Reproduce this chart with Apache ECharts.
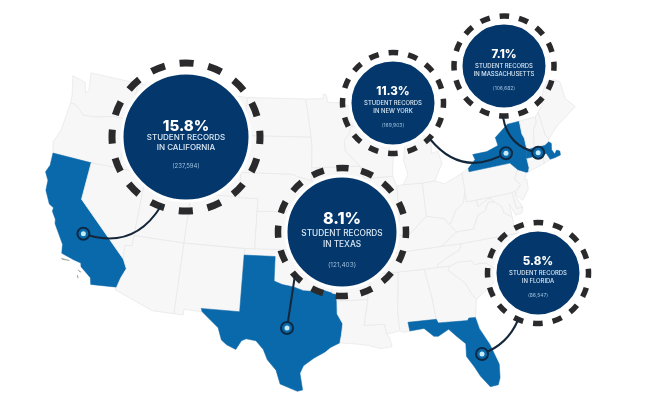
<!DOCTYPE html>
<html>
<head>
<meta charset="utf-8">
<title>Student records by state</title>
<script src="https://cdn.jsdelivr.net/npm/echarts@6/dist/echarts.min.js"></script>
<style>
  html, body { margin: 0; padding: 0; background: #fff; }
  #main { width: 650px; height: 405px; }
</style>
</head>
<body>
<div id="main"></div>
<script>
// chart values
var stateNames = ['California', 'Texas', 'New York', 'Massachusetts', 'Florida'];
var sharePct = ['15.8%', '8.1%', '11.3%', '7.1%', '5.8%'];
var recordCounts = ['237,594', '121,403', '169,903', '106,682', '86,547'];
var labelLines = ['IN CALIFORNIA', 'IN TEXAS', 'IN NEW YORK', 'IN MASSACHUSETTS', 'IN FLORIDA'];
// where each pin sits, lon / lat
var pinLonLat = [[-118.95, 36.35], [-98.64, 30.88], [-75.53, 42.82], [-72.2, 42.24], [-81.37, 27.81]];

// callout layout in page pixels
var bubbleCenter = [[186, 137], [342, 232], [393, 103], [504, 66], [538, 273]];
var bubbleRadius = [64, 56, 43, 43, 43];
var ringRadius = [74, 64, 50.5, 50, 50.5];
var ringWidth = [7, 6.5, 5.5, 5.5, 5.5];
var lineEnd = [[161, 206], [295, 275], [430, 139], [503, 117], [518, 320]];
var lineCurve = [-0.4, 0, 0.42, 0.35, -0.22];
// font size, then line heights: percent, text, gap, count
var textStyle = [
  { pct: 15, txt: 8, rec: 6, lh: [14, 10, 8, 10], dy: 8 },
  { pct: 16, txt: 8.3, rec: 6.5, lh: [19, 11, 9, 11], dy: 8 },
  { pct: 11.5, txt: 5.9, rec: 5, lh: [14, 8, 6, 8], dy: 4 },
  { pct: 11.5, txt: 5.9, rec: 5, lh: [14, 8, 6, 8], dy: 4 },
  { pct: 11.5, txt: 5.9, rec: 5, lh: [14, 8, 6, 8], dy: 4 }
];

// simplified state outlines, lon / lat. one list per polygon
var usStates = {
  'Washington': [[[-124.7,48.4],[-123.1,48.15],[-122.7,47.3],[-122.4,47.6],[-122.5,48],[-122.75,49],[-117.03,49],[-117.04,46.42],[-116.92,45.99],[-118.98,46],[-119.3,45.93],[-120.5,45.7],[-121.2,45.6],[-122.3,45.55],[-122.8,45.9],[-123.4,46.2],[-124,46.25],[-124.1,46.9]]],
  'Oregon': [[[-124.2,42],[-124.55,42.85],[-124.1,44],[-124,46.25],[-123.4,46.2],[-122.8,45.9],[-122.3,45.55],[-121.2,45.6],[-120.5,45.7],[-119.3,45.93],[-118.98,46],[-116.92,45.99],[-116.46,45.6],[-117.03,44.25],[-117.03,42],[-120,42]]],
  'California': [[[-124.2,42],[-120,42],[-120,39],[-114.6,35],[-114.15,34.3],[-114.5,33.5],[-114.7,32.72],[-117.12,32.53],[-117.3,33.05],[-118.4,33.75],[-118.5,34.03],[-119.2,34.15],[-120.5,34.45],[-120.65,35.15],[-121.9,36.6],[-122,36.96],[-122.5,37.5],[-122.5,37.8],[-123,38],[-123.75,39],[-123.85,39.8],[-124.35,40.4],[-124.1,41]]],
  'Channel Islands': [[[-120.4,34.05],[-119.6,34.03],[-119.5,33.98],[-120.3,33.98]], [[-118.6,33.45],[-118.3,33.35],[-118.35,33.3]], [[-118.55,33.05],[-118.4,32.85],[-118.45,32.82]]],
  'Idaho': [[[-117.03,49],[-116.05,49],[-116.05,48],[-115.7,47.45],[-114.7,46.7],[-114.4,45.55],[-113.9,45.65],[-113.45,44.95],[-113,44.45],[-111.5,44.55],[-111.05,44.47],[-111.05,42],[-117.03,42],[-117.03,44.25],[-116.46,45.6],[-116.92,45.99],[-117.04,46.42]]],
  'Montana': [[[-116.05,49],[-104.05,49],[-104.05,45],[-111.05,45],[-111.05,44.47],[-111.5,44.55],[-113,44.45],[-113.45,44.95],[-113.9,45.65],[-114.4,45.55],[-114.7,46.7],[-115.7,47.45],[-116.05,48]]],
  'Wyoming': [[[-111.05,45],[-104.05,45],[-104.05,41],[-111.05,41]]],
  'Nevada': [[[-120,42],[-114.04,42],[-114.04,36.2],[-114.75,36.1],[-114.6,35],[-120,39]]],
  'Utah': [[[-114.04,42],[-111.05,42],[-111.05,41],[-109.05,41],[-109.05,37],[-114.04,37]]],
  'Colorado': [[[-109.05,41],[-102.05,41],[-102.05,37],[-109.05,37]]],
  'Arizona': [[[-114.04,37],[-109.05,37],[-109.05,31.33],[-111.07,31.33],[-114.8,32.5],[-114.7,32.72],[-114.5,33.5],[-114.15,34.3],[-114.6,35],[-114.75,36.1],[-114.04,36.2]]],
  'New Mexico': [[[-109.05,37],[-103,37],[-103.04,36.5],[-103.06,32],[-106.62,32],[-106.5,31.75],[-108.2,31.78],[-108.2,31.33],[-109.05,31.33]]],
  'North Dakota': [[[-104.05,49],[-97.2,49],[-96.85,47.5],[-96.55,45.94],[-104.05,45.94]]],
  'South Dakota': [[[-104.05,45.94],[-96.55,45.94],[-96.45,45.3],[-96.45,43.5],[-96.45,42.5],[-97.9,42.8],[-98.5,43],[-104.05,43]]],
  'Nebraska': [[[-104.05,43],[-98.5,43],[-97.9,42.8],[-96.45,42.5],[-96.1,41.7],[-95.85,40.7],[-95.3,40],[-102.05,40],[-102.05,41],[-104.05,41]]],
  'Kansas': [[[-102.05,40],[-95.3,40],[-94.6,39.1],[-94.62,37],[-102.05,37]]],
  'Oklahoma': [[[-103,37],[-94.62,37],[-94.43,35.4],[-94.48,33.64],[-95.3,33.87],[-96.5,33.8],[-97.2,33.85],[-98.1,34.13],[-99.2,34.3],[-100,34.56],[-100,36.5],[-103.04,36.5]]],
  'Texas': [[[-103.04,36.5],[-100,36.5],[-100,34.56],[-99.2,34.3],[-98.1,34.13],[-97.2,33.85],[-96.5,33.8],[-95.3,33.87],[-94.48,33.64],[-94.04,33.55],[-94.04,33],[-94.04,31.99],[-93.55,31.2],[-93.7,30.3],[-93.85,29.7],[-94.7,29.35],[-95.2,29],[-96.2,28.5],[-97.1,27.9],[-97.4,27.3],[-97.15,25.96],[-97.6,25.85],[-99.1,26.4],[-99.5,27.5],[-100.3,28.3],[-100.7,29.1],[-101.4,29.77],[-102.3,29.88],[-102.7,29.7],[-103.15,28.98],[-104,29.3],[-104.5,29.65],[-104.9,30.6],[-106.5,31.75],[-106.62,32],[-103.06,32]]],
  'Minnesota': [[[-97.2,49],[-95.15,49],[-95.15,49.38],[-94.8,49.3],[-94.6,48.7],[-93,48.6],[-91.4,48.05],[-89.6,48],[-92,46.7],[-92.3,46.1],[-92.85,45.6],[-92.75,44.75],[-91.22,43.5],[-96.45,43.5],[-96.45,45.3],[-96.55,45.94],[-96.85,47.5]]],
  'Iowa': [[[-96.45,43.5],[-91.22,43.5],[-91.05,42.7],[-90.15,41.8],[-91.1,41.2],[-91.4,40.6],[-91.7,40.6],[-95.77,40.58],[-95.85,40.7],[-96.1,41.7],[-96.45,42.5]]],
  'Missouri': [[[-95.77,40.58],[-91.7,40.6],[-91.4,40.4],[-91.5,40],[-90.7,39],[-90.2,38.7],[-90.2,38.3],[-89.5,37.3],[-89.15,37],[-89.7,36],[-90.35,36],[-90.1,36.5],[-94.62,36.5],[-94.62,37],[-94.6,39.1],[-95.3,40]]],
  'Arkansas': [[[-94.62,36.5],[-90.1,36.5],[-90.35,36],[-89.7,36],[-90.1,35.1],[-90.6,34.7],[-91.1,33.9],[-91.15,33],[-94.04,33],[-94.04,33.55],[-94.48,33.64],[-94.43,35.4]]],
  'Louisiana': [[[-94.04,33],[-91.15,33],[-91.6,31],[-89.75,31],[-89.6,30.2],[-89.4,30],[-89.2,29.2],[-90.2,29.1],[-91.3,29.4],[-92.3,29.55],[-93.85,29.7],[-93.7,30.3],[-93.55,31.2],[-94.04,31.99]]],
  'Mississippi': [[[-91.15,33],[-91.1,33.9],[-90.6,34.7],[-90.1,35],[-88.2,35],[-88.1,34.9],[-88.45,31.9],[-88.4,30.4],[-89.6,30.2],[-89.75,31],[-91.6,31]]],
  'Alabama': [[[-88.2,35],[-85.6,35],[-85.18,32.87],[-85,31],[-87.6,31],[-87.5,30.3],[-88.1,30.25],[-88.4,30.4],[-88.45,31.9],[-88.1,34.9]]],
  'Georgia': [[[-85.6,35],[-83.1,35],[-83.35,34.7],[-81.9,33.5],[-81.4,32.5],[-81.1,32.1],[-81.45,30.72],[-82.05,30.75],[-82.2,30.57],[-84.86,30.7],[-85,31],[-85.18,32.87]]],
  'Florida': [[[-87.6,31],[-85,31],[-84.86,30.7],[-82.2,30.57],[-82.05,30.75],[-81.45,30.72],[-81.25,29.8],[-80.55,28.45],[-80.03,26.8],[-80.15,25.75],[-80.4,25.2],[-81.1,25.15],[-81.8,26.1],[-82.2,26.9],[-82.75,27.8],[-82.65,28.8],[-83.4,29.5],[-84,30.1],[-85,29.65],[-85.4,29.7],[-86.2,30.4],[-87.5,30.3]]],
  'South Carolina': [[[-83.1,35],[-82.3,35.2],[-81,35.15],[-80.8,34.82],[-79.67,34.8],[-78.55,33.86],[-79.2,33.2],[-80.4,32.5],[-81.1,32.1],[-81.4,32.5],[-81.9,33.5],[-83.35,34.7]]],
  'North Carolina': [[[-84.32,35],[-83.1,35],[-82.3,35.2],[-81,35.15],[-80.8,34.82],[-79.67,34.8],[-78.55,33.86],[-77.9,33.9],[-77,34.6],[-76.5,34.7],[-75.55,35.25],[-75.9,36.55],[-81.68,36.59],[-82,36.1],[-83.2,35.7],[-84.3,35.2]]],
  'Tennessee': [[[-90.1,35],[-88.2,35],[-85.6,35],[-84.32,35],[-84.3,35.2],[-83.2,35.7],[-82,36.1],[-81.68,36.59],[-83.68,36.6],[-88.05,36.5],[-89.4,36.5],[-89.7,36]]],
  'Kentucky': [[[-89.4,36.5],[-88.05,36.5],[-83.68,36.6],[-81.97,37.54],[-82.6,38.17],[-83,38.7],[-84.8,39.1],[-85.4,38.7],[-86.5,37.95],[-88,37.8],[-88.5,37.1],[-89.15,37]]],
  'Virginia': [[[-83.68,36.6],[-81.68,36.59],[-75.9,36.55],[-76.3,37],[-76.3,37.9],[-77,38.3],[-77.1,38.85],[-77.72,39.32],[-78.35,39.4],[-78.85,38.75],[-79.65,38.55],[-80.3,37.55],[-81.97,37.54]]],
  'West Virginia': [[[-81.97,37.54],[-80.3,37.55],[-79.65,38.55],[-78.85,38.75],[-78.35,39.4],[-77.72,39.32],[-78.2,39.68],[-79.48,39.2],[-79.48,39.72],[-80.52,39.72],[-80.52,40.64],[-80.85,39.7],[-81.75,39.2],[-82.2,38.6],[-82.6,38.17]]],
  'Maryland': [[[-79.48,39.72],[-75.79,39.72],[-75.69,38.46],[-75.05,38.45],[-75.25,38.03],[-75.9,37.95],[-76.3,38.9],[-76.3,37.9],[-77,38.3],[-77.1,38.85],[-77.72,39.32],[-78.2,39.68],[-79.48,39.2]]],
  'Delaware': [[[-75.79,39.72],[-75.4,39.8],[-75.55,39.45],[-75.05,38.45],[-75.69,38.46]]],
  'Pennsylvania': [[[-80.52,42],[-79.76,42.27],[-79.76,42],[-75.35,42],[-74.7,41.36],[-75.1,40.9],[-75.2,40.65],[-74.75,40.2],[-75.4,39.8],[-75.79,39.72],[-80.52,39.72]]],
  'New Jersey': [[[-74.7,41.36],[-73.9,41],[-74.25,40.5],[-74,40.45],[-74.1,39.7],[-74.9,38.95],[-75.5,39.5],[-74.75,40.2],[-75.2,40.65],[-75.1,40.9]]],
  'New York': [[[-79.76,42],[-75.35,42],[-74.7,41.36],[-73.9,41],[-73.65,41],[-73.5,41.3],[-73.5,42.05],[-73.27,42.75],[-73.25,43.6],[-73.4,44],[-73.34,45],[-74.7,45],[-76.3,44.2],[-76.2,43.55],[-77.5,43.27],[-79.05,43.27],[-78.9,42.85],[-79.76,42.27]]],
  'Connecticut': [[[-73.5,42.05],[-71.8,42.02],[-71.85,41.32],[-73.65,41],[-73.5,41.3]]],
  'Rhode Island': [[[-71.8,42.02],[-71.38,42.02],[-71.15,41.5],[-71.85,41.32]]],
  'Massachusetts': [[[-73.5,42.05],[-71.8,42.02],[-71.38,42.02],[-71.15,41.5],[-70.65,41.52],[-70,41.6],[-69.95,41.9],[-70.25,42.05],[-70.55,41.8],[-70.75,42.2],[-70.6,42.65],[-70.85,42.87],[-71.3,42.7],[-72.46,42.73],[-73.27,42.75]]],
  'Vermont': [[[-73.34,45],[-71.5,45],[-71.6,44.5],[-72.05,44.1],[-72.46,42.73],[-73.27,42.75],[-73.25,43.6],[-73.4,44]]],
  'New Hampshire': [[[-71.5,45],[-71.08,45.3],[-70.98,43.4],[-70.7,43.07],[-70.85,42.87],[-71.3,42.7],[-72.46,42.73],[-72.05,44.1],[-71.6,44.5]]],
  'Maine': [[[-71.08,45.3],[-70.4,45.8],[-70,46.7],[-69.2,47.45],[-68.3,47.35],[-67.8,47.05],[-67.8,45.7],[-67,44.85],[-68.5,44.25],[-69.5,43.85],[-70.7,43.07],[-70.98,43.4]]],
  'Ohio': [[[-84.8,41.7],[-83.45,41.73],[-82.5,41.4],[-81.2,41.77],[-80.52,42],[-80.52,40.64],[-80.85,39.7],[-81.75,39.2],[-82.2,38.6],[-82.6,38.17],[-83,38.7],[-84.8,39.1]]],
  'Indiana': [[[-87.5,41.72],[-86.8,41.76],[-84.8,41.7],[-84.8,39.1],[-85.4,38.7],[-86.5,37.95],[-88,37.8],[-87.5,39.3]]],
  'Illinois': [[[-87.8,42.5],[-90.65,42.5],[-91.05,42.7],[-90.15,41.8],[-91.1,41.2],[-91.4,40.6],[-91.4,40.4],[-91.5,40],[-90.7,39],[-90.2,38.7],[-90.2,38.3],[-89.5,37.3],[-89.15,37],[-88.5,37.1],[-88,37.8],[-87.5,39.3],[-87.5,41.72]]],
  'Wisconsin': [[[-92,46.7],[-90.4,46.55],[-88.1,45.9],[-87.6,45.1],[-88,44.55],[-87.5,44.3],[-87.8,43],[-87.8,42.5],[-90.65,42.5],[-91.05,42.7],[-91.22,43.5],[-92.75,44.75],[-92.85,45.6],[-92.3,46.1]]],
  'Michigan': [[[-86.8,41.76],[-84.8,41.7],[-83.45,41.73],[-83.1,42.2],[-82.45,43],[-82.7,44],[-83.4,43.9],[-83.3,45],[-84.75,45.78],[-85.5,45],[-86.25,44.7],[-86.5,43.6],[-86.2,42.5]], [[-90.4,46.55],[-88,47.45],[-87.5,46.5],[-85,46.75],[-84.4,46.5],[-84,46],[-85,46],[-86.5,45.85],[-87.6,45.1],[-88.1,45.9]]]
};

// albers equal area, scaled to the page, with a small bend for the north east
var rad = Math.PI / 180;
var albersN = (Math.sin(29.5 * rad) + Math.sin(45.5 * rad)) / 2;
var albersC = Math.pow(Math.cos(29.5 * rad), 2) + 2 * albersN * Math.sin(29.5 * rad);
var albersR0 = Math.sqrt(albersC - 2 * albersN * Math.sin(37.5 * rad)) / albersN;
var bend = function (x, y) { return 39 * (x + 0.358) * (y + 0.198); };

function project(p) {
  var rho = Math.sqrt(albersC - 2 * albersN * Math.sin(p[1] * rad)) / albersN;
  var theta = albersN * (p[0] + 96) * rad;
  var x = rho * Math.sin(theta);
  var y = albersR0 - rho * Math.cos(theta);
  return [316 + 735 * x, 247 - 708 * y - bend(x, y)];
}
function unproject(pt) {
  var x = (pt[0] - 316) / 735;
  var y = (247 - pt[1]) / 708;
  for (var i = 0; i < 6; i++) {
    y = (247 - pt[1] - bend(x, y)) / 708;
  }
  var ry = albersR0 - y;
  var rho = Math.sqrt(x * x + ry * ry);
  var theta = Math.atan2(x, ry);
  var s = (albersC - Math.pow(rho * albersN, 2)) / (2 * albersN);
  return [theta / albersN / rad - 96, Math.asin(s) / rad];
}

var features = [];
var minX = Infinity, maxX = -Infinity, minY = Infinity, maxY = -Infinity;
Object.keys(usStates).forEach(function (name) {
  usStates[name].forEach(function (ring) {
    ring.forEach(function (c) {
      var p = project(c);
      minX = Math.min(minX, p[0]); maxX = Math.max(maxX, p[0]);
      minY = Math.min(minY, p[1]); maxY = Math.max(maxY, p[1]);
    });
  });
  features.push({
    type: 'Feature',
    properties: { name: name },
    geometry: { type: 'MultiPolygon', coordinates: usStates[name].map(function (r) { return [r]; }) }
  });
});
echarts.registerMap('us48', { type: 'FeatureCollection', features: features });

var myChart = echarts.init(document.getElementById('main'));

var bubbles = stateNames.map(function (name, i) {
  var t = textStyle[i];
  var font = 'Inter, "Noto Sans", sans-serif';
  return {
    name: name,
    value: unproject(bubbleCenter[i]),
    symbolSize: bubbleRadius[i] * 2,
    label: {
      show: true,
      position: 'inside',
      offset: [0, t.dy],
      align: 'center',
      formatter: '{p|' + sharePct[i] + '}\n{t|STUDENT RECORDS}\n{t|' + labelLines[i] + '}\n{g| }\n{r|(' + recordCounts[i] + ')}',
      rich: {
        p: { fontFamily: font, fontSize: t.pct, fontWeight: 800, color: '#ffffff', lineHeight: t.lh[0], align: 'center' },
        t: { fontFamily: font, fontSize: t.txt, fontWeight: 500, color: '#dbe8f4', lineHeight: t.lh[1], align: 'center' },
        g: { fontSize: 4, lineHeight: t.lh[2] },
        r: { fontFamily: font, fontSize: t.rec, color: '#9dbfdf', lineHeight: t.lh[3], align: 'center' }
      }
    }
  };
});

var rings = stateNames.map(function (name, i) {
  var period = 2 * Math.PI * ringRadius[i] / 16;
  var dash = period * 0.49;
  return {
    name: name,
    value: unproject(bubbleCenter[i]),
    symbolSize: ringRadius[i] * 2,
    itemStyle: {
      color: 'rgba(255,255,255,0)',
      borderColor: '#2a2a2c',
      borderWidth: ringWidth[i],
      borderType: [dash, period - dash],
      borderDashOffset: dash / 2,
      opacity: 1
    }
  };
});

var connectors = stateNames.map(function (name, i) {
  return {
    name: name,
    coords: [pinLonLat[i], unproject(lineEnd[i])],
    lineStyle: { curveness: lineCurve[i] }
  };
});

var regionStyles = stateNames.map(function (name) {
  return { name: name, itemStyle: { areaColor: '#0a69aa', borderColor: '#0a69aa', borderWidth: 0.5 } };
});
regionStyles.push({ name: 'Channel Islands', itemStyle: { areaColor: '#9a9a9a', borderColor: '#9a9a9a', borderWidth: 0.5 } });

var option = {
  backgroundColor: '#ffffff',
  animation: false,
  geo: {
    map: 'us48',
    projection: { project: project, unproject: unproject },
    layoutCenter: [(minX + maxX) / 2, (minY + maxY) / 2],
    layoutSize: maxX - minX,
    roam: false,
    silent: true,
    label: { show: false },
    itemStyle: { areaColor: '#f7f7f7', borderColor: '#e8e8e8', borderWidth: 0.8 },
    regions: regionStyles
  },
  series: [
    {
      type: 'scatter', coordinateSystem: 'geo', silent: true, z: 3,
      symbol: 'circle', data: rings
    },
    {
      type: 'scatter', coordinateSystem: 'geo', silent: true, z: 4,
      symbol: 'circle',
      itemStyle: { color: '#04386c', borderColor: '#ffffff', borderWidth: 3, opacity: 1 },
      data: bubbles
    },
    {
      type: 'lines', coordinateSystem: 'geo', silent: true, z: 5,
      lineStyle: { color: '#14263a', width: 2, opacity: 1 },
      data: connectors
    },
    {
      type: 'scatter', coordinateSystem: 'geo', silent: true, z: 6,
      symbol: 'circle', symbolSize: 12,
      itemStyle: { color: '#0a69aa', borderColor: '#0d2a45', borderWidth: 2, opacity: 1 },
      data: pinLonLat
    },
    {
      type: 'scatter', coordinateSystem: 'geo', silent: true, z: 7,
      symbol: 'circle', symbolSize: 5,
      itemStyle: { color: '#c4ebf7', opacity: 1 },
      data: pinLonLat
    }
  ]
};

myChart.setOption(option);

window.onresize = function () {
  myChart.resize();
};
</script>
</body>
</html>
